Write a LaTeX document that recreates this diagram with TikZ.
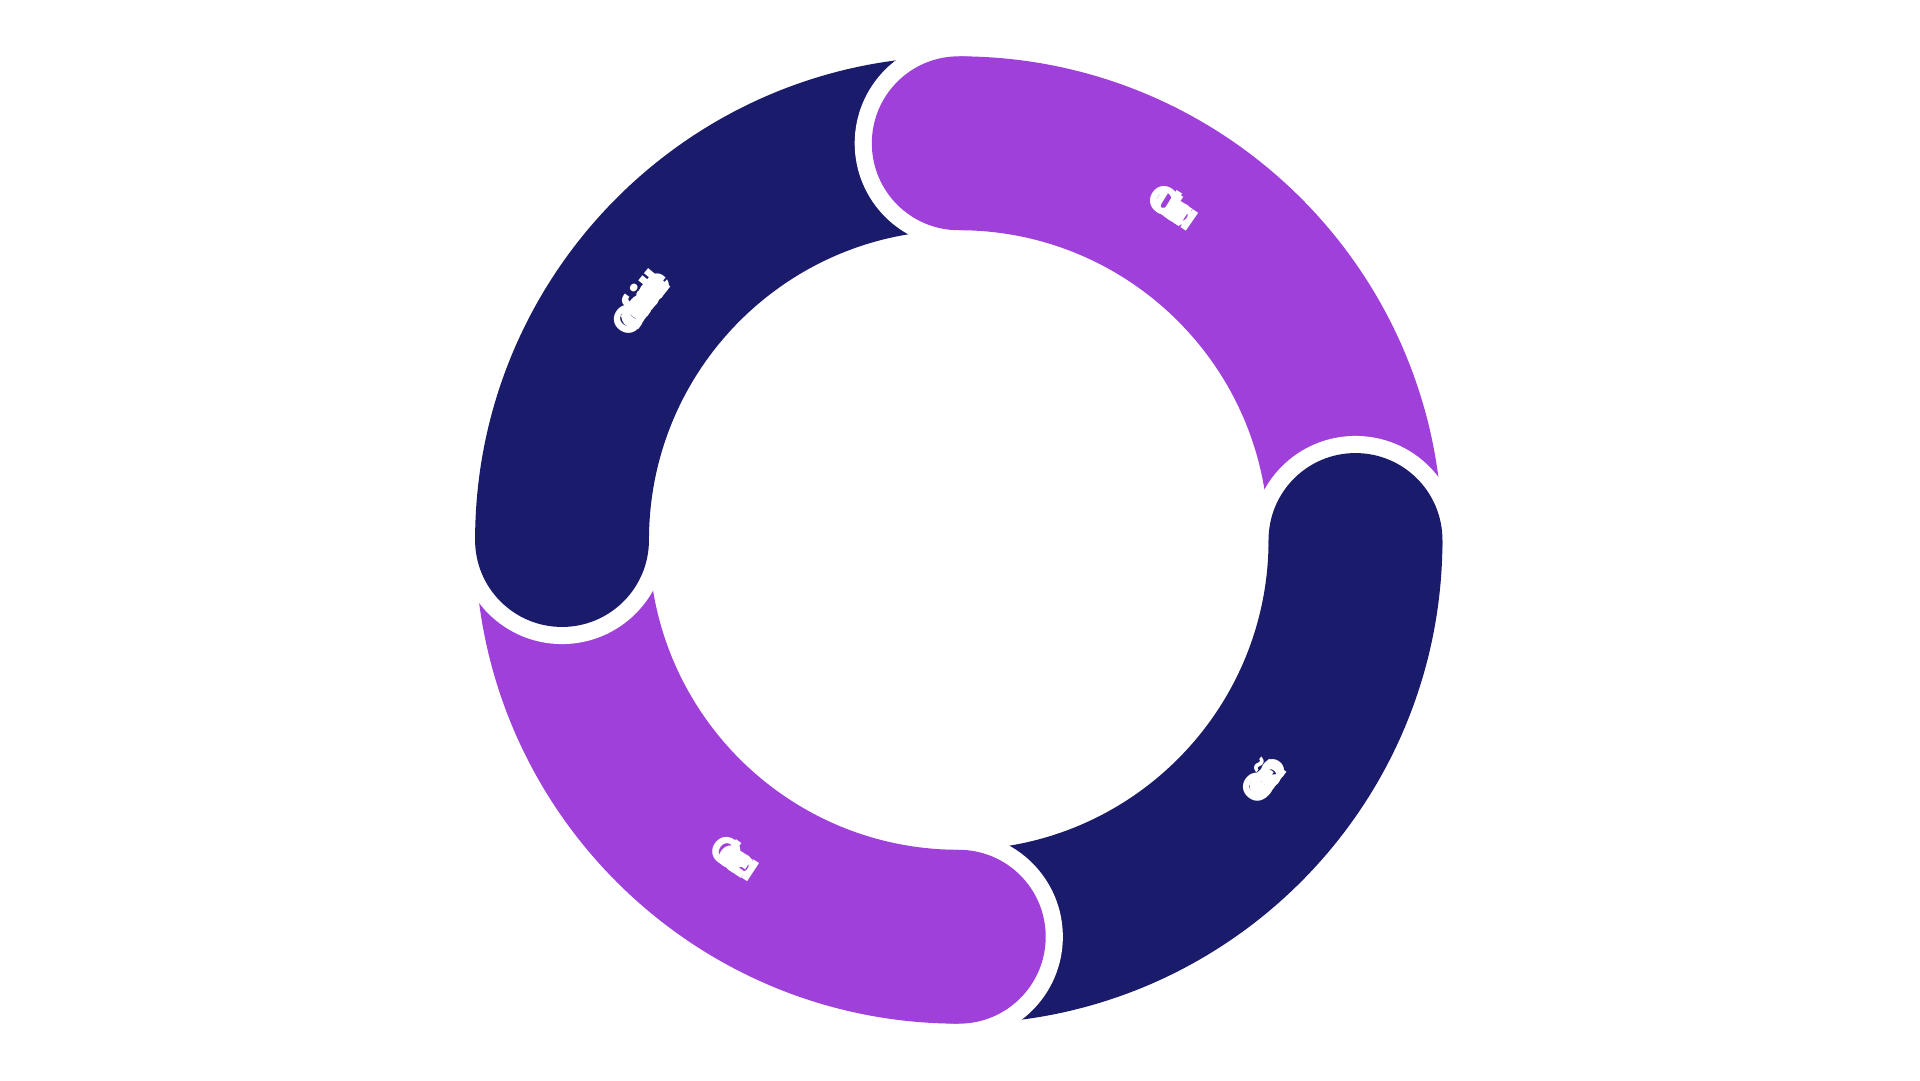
\documentclass[tikz,border=0pt]{standalone}
\usepackage{fontspec}
\setsansfont{Poppins}
\definecolor{pur}{HTML}{A040DA}
\definecolor{nav}{HTML}{1B1B6B}
\newlength\wtot \newlength\wl \newlength\spc
\setlength\spc{1.6pt}
\newcommand\chfont{\sffamily\bfseries\fontsize{16}{16}\selectfont}
\begin{document}
\begin{tikzpicture}[x=0.5bp,y=0.5bp,
  ch/.style={text=white,font=\chfont,inner sep=0pt,anchor=base}]
\useasboundingbox[fill=white] (-783,-441) rectangle (785,441);
\newcommand\seg[2]{%
  \fill[white] (#1:324) circle[radius=85];
  \fill[#2] (#1:324) circle[radius=71];
  \fill[#2] (#1:395) arc[start angle=#1,end angle=#1-90,radius=395] -- (#1-90:253) arc[start angle=#1-90,end angle=#1,radius=253] -- cycle;}
\seg{90}{pur}
\seg{0}{nav}
\seg{-90}{pur}
\seg{180}{nav}
\begin{scope}
\clip (-200,0) rectangle (0,500);
\fill[white] (90:324) circle[radius=85];
\fill[pur] (90:324) circle[radius=71];
\end{scope}
% #1 mid angle, #2 letters, #3 direction (-1 clockwise, +1 counterclockwise), #4 radius, #5 rotation offset, #6 name
\newcommand\arctext[6]{%
  \global\wtot=0pt
  \foreach \l in {#2}{\settowidth\wl{\chfont \l}\global\advance\wtot by \wl\global\advance\wtot by \spc}%
  \global\advance\wtot by -\spc
  \gdef\cum{0}%
  \foreach \l [count=\i] in {#2}{%
    \settowidth\wl{\chfont \l}%
    \pgfmathsetmacro\ang{#1+#3*(\cum+\wl/2-\wtot/2)/(#4*0.50188)*57.296}
    \node[ch,rotate=\ang+#5] (#6\i) at (\ang:#4) {\l};
    \pgfmathsetmacro\newcum{\cum+\wl+\spc}\global\let\cum\newcum}}
\arctext{57}{C,u,l,t,u,r,a}{-1}{313}{-90}{cu}
\arctext{143}{C,o,n,f,o,r,m,i,d,a,d,e}{-1}{313}{-90}{cf}
\arctext{-38}{C,o,n,e,x,ã,o}{1}{328}{90}{cx}
\arctext{-125}{C,l,a,r,e,z,a}{1}{328}{90}{cl}
\end{tikzpicture}
\end{document}
